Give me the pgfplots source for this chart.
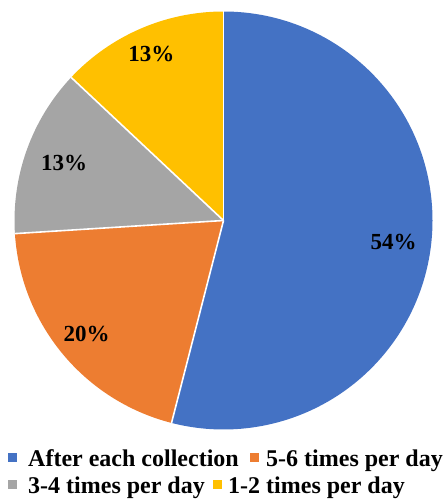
\documentclass[border=0pt]{standalone}
\usepackage{pgfplots}
\usepackage{pgfplotstable}
\pgfplotsset{compat=1.18}
\usepackage{fontspec}
\setmainfont{Liberation Serif}

\definecolor{cBlue}{HTML}{4472C4}
\definecolor{cOrange}{HTML}{ED7D31}
\definecolor{cGray}{HTML}{A5A5A5}
\definecolor{cGold}{HTML}{FFC000}

% share of each answer (percent) and radial position of its label
\pgfplotstableread{
label pct lr
{After each collection} 54 0.82
{5-6 times per day} 20 0.85
{3-4 times per day} 13 0.81
{1-2 times per day} 13 0.87
}\piedata

\begin{document}
\begin{tikzpicture}
% slice values and angles (clockwise from 12 o'clock)
\pgfplotstablegetelem{0}{pct}\of\piedata\let\pA\pgfplotsretval
\pgfplotstablegetelem{1}{pct}\of\piedata\let\pB\pgfplotsretval
\pgfplotstablegetelem{2}{pct}\of\piedata\let\pC\pgfplotsretval
\pgfplotstablegetelem{3}{pct}\of\piedata\let\pD\pgfplotsretval
\pgfplotstablegetelem{0}{lr}\of\piedata\let\rA\pgfplotsretval
\pgfplotstablegetelem{1}{lr}\of\piedata\let\rB\pgfplotsretval
\pgfplotstablegetelem{2}{lr}\of\piedata\let\rC\pgfplotsretval
\pgfplotstablegetelem{3}{lr}\of\piedata\let\rD\pgfplotsretval
\pgfmathsetmacro\aA{90}
\pgfmathsetmacro\aB{\aA-3.6*\pA}
\pgfmathsetmacro\aC{\aB-3.6*\pB}
\pgfmathsetmacro\aD{\aC-3.6*\pC}
\pgfmathsetmacro\aE{\aD-3.6*\pD}
\pgfmathsetmacro\mA{(\aA+\aB)/2}
\pgfmathsetmacro\mB{(\aB+\aC)/2}
\pgfmathsetmacro\mC{(\aC+\aD)/2}
\pgfmathsetmacro\mD{(\aD+\aE)/2}

\path[use as bounding box] (0,0) rectangle (448bp,499bp);

\begin{axis}[
  hide axis, scale only axis, clip=false,
  width=418bp, height=418bp,
  xmin=-1, xmax=1, ymin=-1, ymax=1,
  at={(223.5bp,278.5bp)}, anchor=origin,
]
\fill[cBlue]   (0,0) -- ({cos(\aA)},{sin(\aA)}) arc[start angle=\aA, end angle=\aB, radius=209bp] -- cycle;
\fill[cOrange] (0,0) -- ({cos(\aB)},{sin(\aB)}) arc[start angle=\aB, end angle=\aC, radius=209bp] -- cycle;
\fill[cGray]   (0,0) -- ({cos(\aC)},{sin(\aC)}) arc[start angle=\aC, end angle=\aD, radius=209bp] -- cycle;
\fill[cGold]   (0,0) -- ({cos(\aD)},{sin(\aD)}) arc[start angle=\aD, end angle=\aE, radius=209bp] -- cycle;
% white separators between slices
\draw[white, line width=1.6bp] (0,0) -- ({cos(\aA)},{sin(\aA)});
\draw[white, line width=1.6bp] (0,0) -- ({cos(\aB)},{sin(\aB)});
\draw[white, line width=1.6bp] (0,0) -- ({cos(\aC)},{sin(\aC)});
\draw[white, line width=1.6bp] (0,0) -- ({cos(\aD)},{sin(\aD)});
% value labels
\begin{scope}[every node/.style={font=\fontsize{23bp}{26bp}\selectfont\bfseries, inner sep=0pt}]
\node at ({\rA*cos(\mA)},{\rA*sin(\mA)}) {\pA\%};
\node at ({\rB*cos(\mB)},{\rB*sin(\mB)}) {\pB\%};
\node at ({\rC*cos(\mC)},{\rC*sin(\mC)}) {\pC\%};
\node at ({\rD*cos(\mD)},{\rD*sin(\mD)}) {\pD\%};
\end{scope}
\end{axis}

% legend
\begin{scope}[every node/.style={font=\fontsize{24bp}{28bp}\selectfont\bfseries, inner sep=0pt, anchor=base west}]
\fill[cBlue]   (8bp,37bp) rectangle ++(9bp,9bp);
\node at (28bp,33bp) {After each collection};
\fill[cOrange] (250bp,37bp) rectangle ++(9bp,9bp);
\node at (266bp,33bp) {5-6 times per day};
\fill[cGray]   (8bp,10bp) rectangle ++(9bp,9bp);
\node at (28bp,6bp) {3-4 times per day};
\fill[cGold]   (213bp,10bp) rectangle ++(9bp,9bp);
\node at (228bp,6bp) {1-2 times per day};
\end{scope}
\end{tikzpicture}
\end{document}
